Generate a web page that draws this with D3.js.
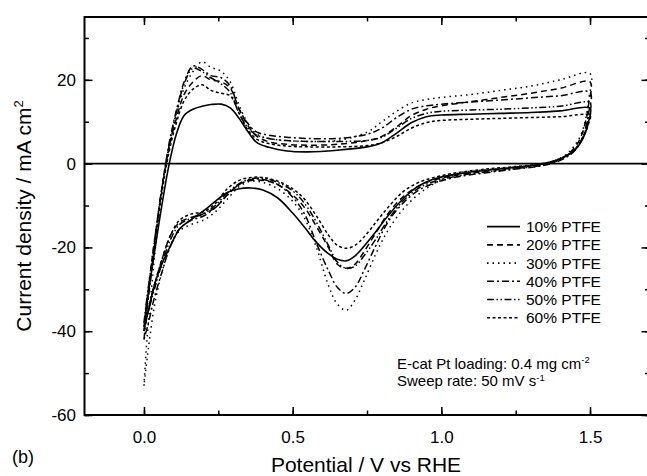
<!DOCTYPE html>
<html>
<head>
<meta charset="utf-8">
<script src="https://cdn.jsdelivr.net/npm/d3@7"></script>
<style>
  body { margin: 0; background: #fff; }
  svg { font-family: "Liberation Sans", Arial, sans-serif; }
</style>
</head>
<body>
<script>
// Cyclic voltammograms, 6 PTFE contents

var w = 647, h = 476;

// potentials sampled on the way up (anodic) and back down (cathodic), V vs RHE
var upV = [0, 0.01, 0.025, 0.04, 0.06, 0.085, 0.11, 0.135, 0.165, 0.195, 0.225, 0.26, 0.29, 0.32, 0.35, 0.38,
           0.42, 0.48, 0.55, 0.65, 0.75, 0.8, 0.85, 0.9, 0.95, 1.0, 1.1, 1.2, 1.3, 1.4, 1.5];
var downV = [1.5, 1.495, 1.485, 1.47, 1.45, 1.42, 1.38, 1.33, 1.25, 1.15, 1.05, 0.97, 0.92, 0.87, 0.82, 0.78,
             0.74, 0.71, 0.68, 0.65, 0.62, 0.58, 0.54, 0.5, 0.45, 0.4, 0.36, 0.32, 0.28, 0.24, 0.2, 0.16,
             0.12, 0.09, 0.06, 0.035, 0.015, 0];

var labels = ["10% PTFE", "20% PTFE", "30% PTFE", "40% PTFE", "50% PTFE", "60% PTFE"];

// current density, mA cm-2
var up10 = [-39, -33, -26, -19, -10, 0, 7.3, 11.5, 13, 13.7, 14.1, 14.2, 13.3, 10.8, 7.6, 5.0,
            3.9, 3.0, 2.8, 3.2, 4.0, 5.0, 7.3, 9.8, 11.2, 11.6, 11.8, 12.0, 12.2, 12.6, 13.2];
var down10 = [13.2, 10, 7.5, 5.2, 3.3, 1.8, 0.6, -0.2, -0.9, -1.6, -2.5, -3.8, -5.5, -8.5, -12.5, -16.2,
              -19.7, -22, -23.2, -22.8, -21.5, -18.8, -15.2, -11.8, -8.2, -6.3, -5.8, -6.0, -6.9, -9.0, -11.3, -13.3,
              -15.6, -19.5, -24, -29, -35, -39];

var up20 = [-40, -33, -24, -16, -6, 4, 11, 16.5, 19.5, 21, 20, 19.5, 18, 13, 9, 6.5,
            5.2, 4.6, 4.4, 4.6, 5.5, 6.5, 8.8, 11.5, 13, 13.8, 14.8, 15.8, 16.8, 18, 19.5];
var down20 = [19.5, 14, 10, 6.5, 4, 2, 0.5, -0.3, -1, -1.8, -2.8, -4, -5.5, -8, -12, -16.5,
              -21, -24, -25, -24, -20, -15, -10.5, -7.5, -5, -4, -4, -5, -7.5, -10.5, -12, -12.8,
              -14, -17, -23, -29, -35, -40];

var up30 = [-53, -42, -30, -19, -7, 4, 12, 18, 22, 24.3, 23, 22, 19.5, 14, 9.5, 7,
            6, 5.5, 5.3, 5.5, 7.5, 10, 12.5, 14.5, 15.3, 15.8, 16.5, 17.5, 18.5, 20, 21.5];
var down30 = [21.5, 15, 10.5, 7, 4.5, 2.2, 0.7, -0.2, -0.8, -1.5, -2.4, -5, -7.5, -11, -16, -21.5,
              -28, -32.5, -35, -33.5, -29, -20, -13, -9, -6, -4.5, -4.2, -5.5, -8.5, -11.5, -13.5, -14.5,
              -16, -19.5, -26, -34, -44, -53];

var up40 = [-42, -35, -26, -17, -6, 5, 13, 19.5, 23.3, 22.5, 21, 20.5, 18.5, 13, 9.5, 7.5,
            6.8, 6.3, 6, 6, 7, 8.5, 11, 13, 13.8, 14.2, 14.7, 15.2, 15.7, 16.2, 17];
var down40 = [17, 12, 8.5, 5.5, 3.2, 1.5, 0.2, -0.6, -1.3, -2.2, -3.2, -4.8, -6.5, -9.5, -14, -19.5,
              -25.5, -29.5, -31, -29.5, -25.5, -19, -12, -8, -5, -3.8, -3.8, -5, -7.5, -10.5, -12.5, -13.5,
              -15.5, -19.5, -26, -32, -38, -42];

var up50 = [-38, -32, -24, -16, -6, 4.5, 12.5, 19, 22.8, 22, 20.5, 19, 17, 12, 8.5, 6.8,
            6, 5.5, 5.3, 5.3, 5.5, 6.3, 8.5, 10.8, 12, 12.5, 12.8, 13, 13.3, 13.7, 14.5];
var down50 = [14.5, 11, 8, 5.5, 3.5, 1.8, 0.4, -0.5, -1.2, -2, -3, -4.4, -6, -9, -13.5, -18,
              -22, -24.5, -25, -23.5, -19.5, -14, -9.5, -6.5, -4.5, -3.5, -3.6, -4.8, -7, -10, -12, -13,
              -14.5, -18, -24, -30, -35, -38];

var up60 = [-40, -34, -25, -17, -7, 3, 10, 15, 17.8, 18.8, 17.5, 16.8, 16.2, 12, 8, 5.8,
            4.8, 4.2, 4, 4, 4.3, 5, 6.5, 8.5, 9.8, 10.3, 10.6, 10.8, 11, 11.2, 11.5];
var down60 = [11.5, 9.5, 7.5, 5.3, 3.5, 1.9, 0.7, -0.1, -0.7, -1.3, -2.2, -3.4, -4.6, -6.8, -10.5, -14,
              -17.5, -19.5, -20.2, -19.5, -17, -12.5, -8.5, -6, -4.2, -3.3, -3.3, -4, -6, -9.5, -11.5, -12,
              -13.5, -17, -23, -29, -35, -40];

var ups = [up10, up20, up30, up40, up50, up60];
var downs = [down10, down20, down30, down40, down50, down60];
var dashes = ["none", "6,4", "1.5,4", "7,3,2,3", "7,2.5,1.5,2.5,1.5,2.5", "3,2.5"];

var xTicks = [0, 0.5, 1.0, 1.5];
var yTicks = [-60, -40, -20, 0, 20];

// plot box (window.top is reserved, so p- prefix)
var pLeft = 84.5, pRight = 649.5, pTop = 17, pBottom = 415;

var x = d3.scaleLinear().domain([-0.2, 1.7]).range([pLeft, pRight]);
var y = d3.scaleLinear().domain([-60, 35]).range([pBottom, pTop]);

var svg = d3.select("body").append("svg")
    .attr("width", w)
    .attr("height", h);

svg.append("defs").append("clipPath").attr("id", "clip")
  .append("rect")
    .attr("x", pLeft).attr("y", pTop)
    .attr("width", pRight - pLeft).attr("height", pBottom - pTop);

// build loops: up sweep then down sweep
var loops = ups.map(function(u, i) {
  var pts = upV.map(function(v, j) { return [v, u[j]]; });
  downV.slice(1).forEach(function(v, j) { pts.push([v, downs[i][j + 1]]); });
  return pts;
});

var line = d3.line()
    .x(function(d) { return x(d[0]); })
    .y(function(d) { return y(d[1]); })
    .curve(d3.curveCatmullRom.alpha(0.5));

var plot = svg.append("g").attr("clip-path", "url(#clip)");

// zero line
plot.append("line")
    .attr("x1", pLeft).attr("x2", pRight)
    .attr("y1", y(0)).attr("y2", y(0))
    .attr("stroke", "#000").attr("stroke-width", 1.6);

plot.selectAll("path.cv")
    .data(loops)
    .enter()
    .append("path")
    .attr("class", "cv")
    .attr("d", line)
    .attr("fill", "none")
    .attr("stroke", "#000")
    .attr("stroke-width", function(d, i) { return i === 0 ? 1.6 : 1.5; })
    .attr("stroke-dasharray", function(d, i) { return dashes[i]; });

// axes, ticks pointing inward, mirrored on top/right
function styleAxis(g) {
  g.select(".domain").remove();
  g.selectAll(".tick line").attr("stroke", "#000").attr("stroke-width", 1.5);
  g.selectAll(".tick text").attr("font-size", 17).attr("fill", "#000")
    .attr("font-family", "'Liberation Sans', Arial, sans-serif");
}

var xMinor = d3.range(0, 1.51, 0.25);
var yMinor = d3.range(-60, 31, 10);

svg.append("g").attr("transform", "translate(0," + pBottom + ")")
    .call(d3.axisBottom(x).tickValues(xMinor).tickSize(-4.5).tickFormat(""))
    .call(styleAxis);
svg.append("g").attr("transform", "translate(0," + pBottom + ")")
    .call(d3.axisBottom(x).tickValues(xTicks).tickSize(-8).tickPadding(16).tickFormat(d3.format(".1f")))
    .call(styleAxis);
svg.append("g").attr("transform", "translate(0," + pTop + ")")
    .call(d3.axisTop(x).tickValues(xMinor).tickSize(-4.5).tickFormat(""))
    .call(styleAxis);
svg.append("g").attr("transform", "translate(0," + pTop + ")")
    .call(d3.axisTop(x).tickValues(xTicks).tickSize(-8).tickFormat(""))
    .call(styleAxis);

svg.append("g").attr("transform", "translate(" + pLeft + ",0)")
    .call(d3.axisLeft(y).tickValues(yMinor).tickSize(-4.5).tickFormat(""))
    .call(styleAxis);
svg.append("g").attr("transform", "translate(" + pLeft + ",0)")
    .call(d3.axisLeft(y).tickValues(yTicks).tickSize(-8).tickPadding(8.5)
      .tickFormat(function(d) { return String(d); }))   // plain hyphen like the original
    .call(styleAxis);
svg.append("g").attr("transform", "translate(" + pRight + ",0)")
    .call(d3.axisRight(y).tickValues(yMinor).tickSize(-4.5).tickFormat(""))
    .call(styleAxis);
svg.append("g").attr("transform", "translate(" + pRight + ",0)")
    .call(d3.axisRight(y).tickValues(yTicks).tickSize(-8).tickFormat(""))
    .call(styleAxis);

// frame
svg.append("rect")
    .attr("x", pLeft).attr("y", pTop)
    .attr("width", pRight - pLeft).attr("height", pBottom - pTop)
    .attr("fill", "none").attr("stroke", "#000").attr("stroke-width", 2);

// axis titles
svg.append("text")
    .attr("x", 366).attr("y", 472)
    .attr("text-anchor", "middle")
    .attr("font-size", 21)
    .text("Potential / V vs RHE");

var yt = svg.append("text")
    .attr("transform", "translate(31,216) rotate(-90)")
    .attr("text-anchor", "middle")
    .attr("font-size", 21);
yt.append("tspan").text("Current density / mA cm");
yt.append("tspan").attr("font-size", 13).attr("dy", -8).text("2");

svg.append("text")
    .attr("x", 12).attr("y", 463)
    .attr("font-size", 18)
    .text("(b)");

// legend
var leg = svg.append("g").selectAll("g")
    .data(labels)
    .enter()
    .append("g")
    .attr("transform", function(d, i) { return "translate(487," + (226.7 + i * 18.2) + ")"; });

leg.append("line")
    .attr("x1", 0).attr("x2", 33)
    .attr("stroke", "#000")
    .attr("stroke-width", function(d, i) { return i === 0 ? 1.8 : 1.6; })
    .attr("stroke-dasharray", function(d, i) { return dashes[i]; });

leg.append("text")
    .attr("x", 39).attr("y", 5.5)
    .attr("font-size", 15.5)
    .text(function(d) { return d; });

// notes
var n1 = svg.append("text").attr("x", 397).attr("y", 369).attr("font-size", 15);
n1.append("tspan").text("E-cat Pt loading: 0.4 mg cm");
n1.append("tspan").attr("font-size", 9.5).attr("dy", -6).text("-2");

var n2 = svg.append("text").attr("x", 397).attr("y", 386).attr("font-size", 15);
n2.append("tspan").text("Sweep rate: 50 mV s");
n2.append("tspan").attr("font-size", 9.5).attr("dy", -5).text("-1");
</script>
</body>
</html>
